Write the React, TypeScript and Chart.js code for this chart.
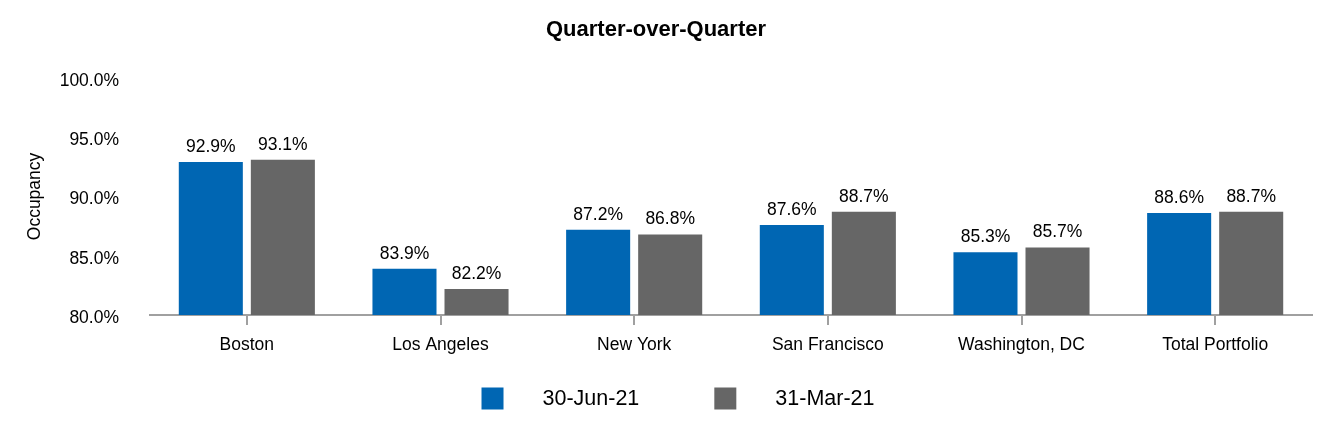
import React, { useEffect, useRef } from "react";
import { Chart, registerables } from "chart.js";

Chart.register(...registerables);

const categories = [
  "Boston",
  "Los Angeles",
  "New York",
  "San Francisco",
  "Washington, DC",
  "Total Portfolio",
];
const june21 = [92.9, 83.9, 87.2, 87.6, 85.3, 88.6];
const march21 = [93.1, 82.2, 86.8, 88.7, 85.7, 88.7];
const seriesLabels = ["30-Jun-21", "31-Mar-21"];
const seriesColors = ["#0066B3", "#666666"];
const yTicks = [80, 85, 90, 95, 100];

const FONT = "'Liberation Sans', Arial, Helvetica, sans-serif";

// Writes each bar's value just above it.
const valueLabels = {
  id: "valueLabels",
  afterDatasetsDraw(chart: any) {
    const ctx = chart.ctx;
    ctx.save();
    ctx.font = `17.5px ${FONT}`;
    ctx.fillStyle = "#000";
    ctx.textAlign = "center";
    ctx.textBaseline = "alphabetic";
    chart.data.datasets.forEach((ds: any, i: number) => {
      const meta = chart.getDatasetMeta(i);
      meta.data.forEach((bar: any, j: number) => {
        ctx.fillText(`${ds.data[j].toFixed(1)}%`, bar.x, bar.y - 10);
      });
    });
    ctx.restore();
  },
};

// Bottom legend with square swatches and wide spacing.
const bottomLegend = {
  id: "bottomLegend",
  afterDraw(chart: any) {
    const ctx = chart.ctx;
    const box = 22;
    const boxGap = 39;
    const itemGap = 75;
    ctx.save();
    ctx.font = `21.5px ${FONT}`;
    const items = chart.data.datasets.map((ds: any) => ({
      label: ds.label,
      color: ds.backgroundColor,
      w: ctx.measureText(ds.label).width,
    }));
    const total =
      items.reduce((s: number, it: any) => s + box + boxGap + it.w, 0) +
      itemGap * (items.length - 1);
    let x = chart.width / 2 + 12 - total / 2;
    const cy = 398.5;
    ctx.textBaseline = "middle";
    ctx.textAlign = "left";
    items.forEach((it: any) => {
      ctx.fillStyle = it.color;
      ctx.fillRect(x, cy - box / 2, box, box);
      ctx.fillStyle = "#000";
      ctx.fillText(it.label, x + box + boxGap, cy + 1);
      x += box + boxGap + it.w + itemGap;
    });
    ctx.restore();
  },
};

export default function App() {
  const ref = useRef<HTMLCanvasElement | null>(null);

  useEffect(() => {
    if (!ref.current) return;
    const chart = new Chart(ref.current, {
      type: "bar",
      data: {
        labels: categories,
        datasets: [
          {
            label: seriesLabels[0],
            data: june21,
            backgroundColor: seriesColors[0],
            categoryPercentage: 0.744,
            barPercentage: 0.889,
          },
          {
            label: seriesLabels[1],
            data: march21,
            backgroundColor: seriesColors[1],
            categoryPercentage: 0.744,
            barPercentage: 0.889,
          },
        ],
      },
      options: {
        responsive: false,
        animation: false,
        devicePixelRatio: 1,
        layout: { padding: { left: 0, right: 20, top: 0, bottom: 80 } },
        plugins: {
          legend: { display: false },
          tooltip: { enabled: false },
          title: {
            display: true,
            text: "Quarter-over-Quarter",
            color: "#000",
            font: { family: FONT, size: 22, weight: "bold" },
            padding: { top: 16.5, bottom: 35 },
          },
        },
        scales: {
          x: {
            grid: {
              display: true,
              drawOnChartArea: false,
              drawTicks: true,
              tickLength: 10,
              offset: false,
              color: "#A0A0A0",
              lineWidth: 2,
            },
            border: { display: true, color: "#A0A0A0", width: 2 },
            ticks: {
              color: "#000",
              font: { family: FONT, size: 17.5 },
              padding: 9.5,
              maxRotation: 0,
            },
            afterFit(scale: any) {
              scale.height = 45;
            },
          },
          y: {
            min: 80,
            max: 100,
            grid: { display: false, drawTicks: false },
            border: { display: false },
            afterBuildTicks(scale: any) {
              scale.ticks = yTicks.map((v) => ({ value: v }));
            },
            ticks: {
              color: "#000",
              // a blank leading line drops each label slightly below its value
              font: { family: FONT, size: 17.5, lineHeight: "6px" },
              padding: 31,
              callback: (v: any) => ["", `${Number(v).toFixed(1)}%`],
            },
            title: {
              display: true,
              text: "Occupancy",
              color: "#000",
              font: { family: FONT, size: 17.5 },
              padding: { top: 24.5, bottom: 0 },
            },
            afterFit(scale: any) {
              scale.width = 150;
            },
          },
        },
      },
      plugins: [valueLabels, bottomLegend],
    });
    return () => chart.destroy();
  }, []);

  return (
    <div style={{ position: "absolute", left: 0, top: 0, width: 1332, height: 440, background: "#fff" }}>
      <canvas ref={ref} width={1332} height={440} />
    </div>
  );
}
